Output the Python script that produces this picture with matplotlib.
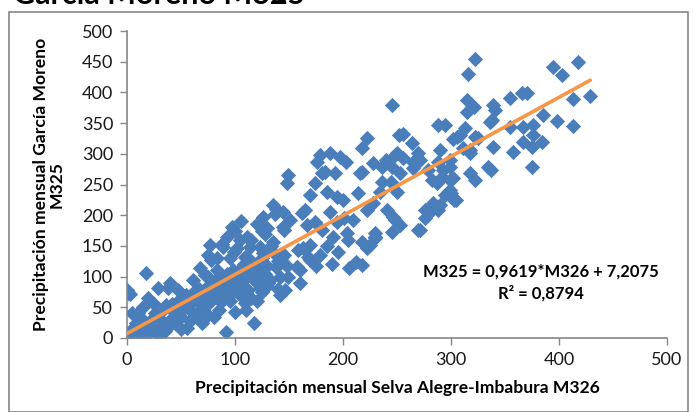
import matplotlib
matplotlib.use("Agg")
import matplotlib.pyplot as plt
from matplotlib.patches import Rectangle

# ---- data ----
m326 = [0, 3, 1, 2, 4, 13, 10, 22, 29, 38, 56, 69, 81, 100, 92, 118, 10, 26, 63, 87,
        36, 47, 54, 69, 81, 94, 103, 109, 115, 19, 29, 38, 47, 61, 72, 78, 18,
        5, 8, 12, 15, 18, 20, 24, 27, 30, 33, 35, 40, 42, 44, 48, 50, 52, 55, 58, 60,
        62, 65, 67, 70, 72, 75, 77, 80, 83, 85, 88, 90, 93, 96, 98, 102, 105, 108, 110,
        112, 115, 118, 120, 122, 125, 128, 130, 132, 135, 138, 140, 142, 145, 148,
        5, 8, 15, 25, 32, 45, 50, 58, 65, 75, 85, 95, 105, 110, 120, 125, 130, 140,
        149, 148, 135, 144, 126, 151, 130, 145, 93, 111, 77, 89, 102, 114, 123, 135,
        75, 83, 95, 109, 126, 143, 158, 168, 68, 83, 98, 114, 126, 140, 149, 157,
        40, 75, 91, 107, 120, 88, 105, 99, 63, 79, 116, 108, 131, 142, 123, 125,
        137, 144, 174, 169, 162, 167, 157,
        222, 218, 179, 188, 197, 203, 176, 183, 193, 218, 228, 236, 248, 245, 256,
        265, 269, 253, 236, 244, 234, 250, 282, 279, 293, 302, 300, 305, 283, 288,
        276, 269, 241, 246, 253, 228, 222, 214, 200, 194, 185, 165, 174, 188, 181,
        194, 201, 209, 191, 204, 218, 230, 222, 169, 163,
        245, 256, 288, 181, 216, 240, 250, 252,
        322, 316, 394, 403, 418, 429, 413, 398, 413, 385, 375, 370, 366, 355, 339,
        341, 338, 315, 321, 315, 294, 313, 308, 302, 322, 311, 318, 339, 357, 355,
        367, 376, 367, 376, 384, 375, 264, 271, 265, 288, 299, 334, 318,
        336, 325, 318, 292, 299, 287, 306,
        206, 218, 212, 230, 225, 271, 290, 282, 276, 294, 230, 248, 245, 299, 303,
        322, 337, 290, 299,
        160, 169, 179, 160, 146, 185, 195, 205, 175, 190,
        115, 120, 128, 133, 138, 100, 106, 97]
m325 = [78, 72, 73, 2, 10, 5, 21, 29, 5, 18, 16, 24, 34, 42, 10, 24, 41, 41, 37, 59,
        54, 49, 62, 54, 70, 81, 91, 57, 65, 65, 81, 81, 78, 94, 102, 127, 106,
        15, 25, 12, 30, 20, 8, 18, 35, 25, 45, 12, 30, 55, 40, 62, 35, 48, 70, 55, 42,
        75, 60, 80, 45, 68, 85, 58, 90, 75, 100, 85, 70, 105, 95, 75, 108, 85, 120, 100,
        78, 125, 95, 112, 88, 130, 105, 118, 95, 140, 115, 125, 100, 135, 118,
        40, 5, 50, 55, 28, 22, 15, 28, 40, 38, 45, 60, 70, 45, 60, 75, 85, 80,
        265, 252, 217, 205, 197, 192, 179, 176, 165, 165, 151, 148, 147, 148, 148, 156,
        135, 130, 130, 132, 138, 130, 143, 132, 114, 111, 111, 114, 119, 119, 99, 115,
        90, 99, 99, 94, 94, 153, 160, 140, 77, 67, 109, 101, 90, 70, 81, 174,
        202, 181, 252, 233, 204, 184, 116,
        326, 309, 298, 301, 295, 287, 287, 270, 268, 270, 285, 278, 298, 279, 293,
        287, 301, 268, 254, 254, 238, 238, 257, 274, 274, 261, 236, 225, 220, 208,
        208, 176, 208, 197, 184, 220, 208, 236, 225, 230, 238, 208, 189, 205, 176,
        189, 195, 192, 164, 171, 156, 164, 147, 151, 146,
        379, 333, 347, 268, 268, 290, 301, 330,
        454, 430, 442, 428, 450, 394, 389, 353, 345, 363, 278, 399, 399, 391, 379,
        371, 355, 388, 376, 368, 347, 342, 331, 324, 327, 309, 301, 311, 303, 344,
        344, 347, 319, 331, 319, 311, 318, 290, 277, 287, 279, 279, 268,
        352, 326, 306, 262, 257, 252, 327,
        114, 119, 124, 171, 151, 176, 217, 208, 195, 233, 163, 192, 173, 241, 225,
        257, 274, 306, 290,
        111, 127, 135, 90, 78, 150, 140, 160, 118, 120,
        160, 185, 170, 150, 210, 175, 190, 180]

slope = 0.9619
intercept = 7.2075
eq_text = "M325 = 0,9619*M326 + 7,2075"
r2_text = "R² = 0,8794"
x_ticks = [0, 100, 200, 300, 400, 500]
y_ticks = [0, 50, 100, 150, 200, 250, 300, 350, 400, 450, 500]

BLUE = "#4A7EBB"
ORANGE = "#F79646"
GRAY = "#868686"

plt.rcParams['font.family'] = ['Lato', 'DejaVu Sans']

fig = plt.figure(figsize=(6.93, 4.12), dpi=100)
ax = fig.add_axes([127/693, 1-338/412, 540/693, 307/412])

ax.scatter(m326, m325, marker='D', s=7.8**2, color=BLUE, linewidths=0, zorder=2)
xs = [min(m326), max(m326)]
ax.plot(xs, [slope*v + intercept for v in xs], color=ORANGE, lw=2.6,
        solid_capstyle='round', zorder=3)

ax.set_xlim(0, 500)
ax.set_ylim(0, 500)
ax.set_xticks(x_ticks)
ax.set_yticks(y_ticks)
ax.tick_params(axis='both', direction='out', length=5, width=1, color=GRAY,
               labelsize=13, labelcolor='#1a1a1a', pad=5)
for s in ['top', 'right']:
    ax.spines[s].set_visible(False)
for s in ['left', 'bottom']:
    ax.spines[s].set_color(GRAY)
    ax.spines[s].set_linewidth(1.2)

ax.set_xlabel("Precipitación mensual Selva Alegre-Imbabura M326",
              fontsize=12.6, fontweight='bold', labelpad=9)
ax.set_ylabel("Precipitación mensual García Moreno\nM325",
              fontsize=12.6, fontweight='bold', labelpad=12, linespacing=1.0)

ax.text(541/693, 1-272/412, eq_text, transform=fig.transFigure,
        ha='center', va='center', fontsize=12, fontweight='bold')
ax.text(541/693, 1-293/412, r2_text, transform=fig.transFigure,
        ha='center', va='center', fontsize=12, fontweight='bold')

fig.text(13/693, 1-4/412, "García Moreno M325", ha='left', va='baseline',
         fontsize=22, fontweight='bold')

fig.patches.append(Rectangle((9/693, 0), 679/693, 1-12/412,
                             transform=fig.transFigure, fill=False,
                             edgecolor=GRAY, lw=1.2, zorder=0))

fig.savefig("out.png", dpi=100)
